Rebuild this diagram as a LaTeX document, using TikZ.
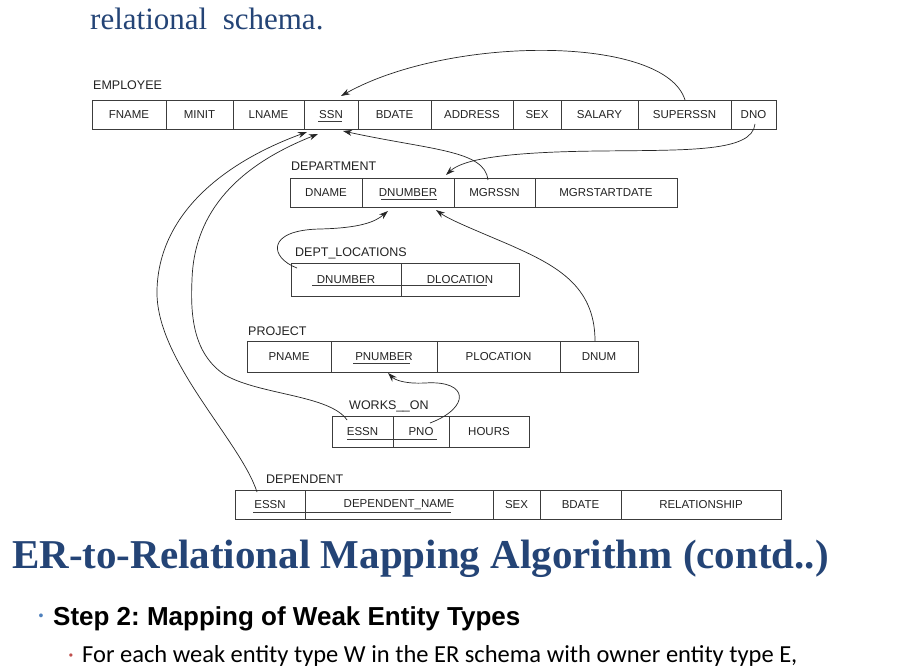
\documentclass[tikz,border=0pt]{standalone}
\usepackage{fontspec}
\setmainfont{Liberation Serif}
\newfontfamily\arialf{Liberation Sans}
\newfontfamily\carlf{Carlito}
\usetikzlibrary{arrows.meta}
\frenchspacing
\definecolor{titleblue}{RGB}{36,68,118}
\definecolor{linegray}{RGB}{60,60,60}
\definecolor{txtgray}{RGB}{35,35,35}
\definecolor{bulblue}{RGB}{79,129,189}
\definecolor{bulred}{RGB}{192,80,77}
\begin{document}
\begin{tikzpicture}[x=1pt,y=-1pt,
  cell/.style={draw=linegray,line width=0.8pt,inner sep=0pt,outer sep=0pt,
    font=\arialf\fontsize{11.5}{13}\selectfont,text=txtgray,anchor=center},
  tlabel/.style={anchor=base west,inner sep=0pt,font=\arialf\fontsize{12.5}{14}\selectfont,text=txtgray},
  uline/.style={draw=linegray,line width=0.7pt},
  fk/.style={draw=black!85,line width=0.7pt,-{Stealth[length=9pt,width=6pt]}}]
\useasboundingbox (0,0) rectangle (902,668);
\fill[white] (0,0) rectangle (902,668);

% heading text
\node[anchor=base west,inner sep=0pt,text=titleblue,font=\fontsize{31}{34}\selectfont] (hd) at (90,30) {relational~~schema.};

% EMPLOYEE
\node[tlabel] (lemp) at (93,90) {EMPLOYEE};
\begin{scope}[every node/.style={cell,minimum height=29pt}]
\node[minimum width=74pt] (efname) at (129,114.5) {FNAME};
\node[minimum width=67pt] (eminit) at (199.5,114.5) {MINIT};
\node[minimum width=71pt] (elname) at (268.5,114.5) {LNAME};
\node[minimum width=54pt] (essn) at (331,114.5) {SSN};
\node[minimum width=73pt] (ebdate) at (394.5,114.5) {BDATE};
\node[minimum width=82pt] (eaddr) at (472,114.5) {ADDRESS};
\node[minimum width=48pt] (esex) at (537,114.5) {SEX};
\node[minimum width=77pt] (esal) at (599.5,114.5) {SALARY};
\node[minimum width=93pt] (esup) at (684.5,114.5) {SUPERSSN};
\node[minimum width=45pt] (edno) at (753.5,114.5) {DNO};
\end{scope}
\draw[uline] (318,121.5) -- (342,121.5);

% DEPARTMENT
\node[tlabel] (ldep) at (291,171) {DEPARTMENT};
\begin{scope}[every node/.style={cell,minimum height=29pt}]
\node[minimum width=72pt] (ddname) at (326,192.5) {DNAME};
\node[minimum width=92pt] (ddnum) at (408,192.5) {DNUMBER};
\node[minimum width=81pt] (dmgr) at (494.5,192.5) {MGRSSN};
\node[minimum width=142pt] (dmgrsd) at (606,192.5) {MGRSTARTDATE};
\end{scope}
\draw[uline] (381,199) -- (437,199);

% DEPT_LOCATIONS
\node[tlabel] (lloc) at (295,257) {DEPT\_LOCATIONS};
\begin{scope}[every node/.style={cell,minimum height=33pt}]
\node[minimum width=110pt] (ldnum) at (346,279.5) {DNUMBER};
\node[minimum width=118pt] (ldloc) at (460,279.5) {DLOCATION};
\end{scope}
\draw[uline] (312,285.5) -- (487,285.5);

% PROJECT
\node[tlabel] (lproj) at (248,335) {PROJECT};
\begin{scope}[every node/.style={cell,minimum height=31pt}]
\node[minimum width=84pt] (ppname) at (289,356.5) {PNAME};
\node[minimum width=106pt] (ppnum) at (384,356.5) {PNUMBER};
\node[minimum width=123pt] (pploc) at (498.5,356.5) {PLOCATION};
\node[minimum width=78pt] (pdnum) at (599,356.5) {DNUM};
\end{scope}
\draw[uline] (353,363.5) -- (410,363.5);

% WORKS_ON
\node[tlabel] (lwo) at (349,409) {WORKS\_\kern-0.5pt\_ON};
\begin{scope}[every node/.style={cell,minimum height=31pt}]
\node[minimum width=61pt] (wessn) at (362.5,431.5) {ESSN};
\node[minimum width=56pt] (wpno) at (421,431.5) {PNO};
\node[minimum width=80pt] (whours) at (489,431.5) {HOURS};
\end{scope}
\draw[uline] (347,439.5) -- (437,439.5);

% DEPENDENT
\node[tlabel] (ldpt) at (266,483) {DEPENDENT};
\begin{scope}[every node/.style={cell,minimum height=29pt}]
\node[minimum width=70pt] (tessn) at (270,504.5) {ESSN};
\node[minimum width=188pt] (tname) at (399,504.5) {DEPENDENT\_NAME};
\node[minimum width=47pt] (tsex) at (516.5,504.5) {SEX};
\node[minimum width=81pt] (tbdate) at (580.5,504.5) {BDATE};
\node[minimum width=160pt] (trel) at (701,504.5) {RELATIONSHIP};
\end{scope}
\draw[uline] (253,512) -- (451,512);

% connector end points
\coordinate (supS) at (685,100);
\coordinate (ssnTop) at (341,96);
\coordinate (dnoS) at (755,124);
\coordinate (dnumTop) at (446,175);
\coordinate (mgrS) at (488,180);
\coordinate (ssnB1) at (307,132);
\coordinate (ssnB2) at (318,134);
\coordinate (ssnB3) at (343,131);
\coordinate (depS) at (257,492);
\coordinate (woS) at (347,420);
\coordinate (locS) at (297,268);
\coordinate (dnumB1) at (388,211);
\coordinate (dnumB2) at (436,210);
\coordinate (pdnumS) at (595,341);
\coordinate (pnoS) at (430,423);
\coordinate (pnumB) at (388,373);

\draw[fk] (supS) .. controls (665,35) and (450,35) .. (ssnTop);
\draw[fk] (dnoS) .. controls (752,152) and (690,150) .. (600,151) .. controls (500,152) and (462,160) .. (dnumTop);
\draw[fk] (mgrS) .. controls (485,150) and (430,150) .. (ssnB3);
\draw[fk] (depS) .. controls (240,440) and (155,360) .. (157,290) .. controls (159,210) and (230,160) .. (ssnB1);
\draw[fk] (woS) .. controls (330,395) and (260,395) .. (225,375) .. controls (195,355) and (190,320) .. (192,280) .. controls (194,210) and (240,165) .. (ssnB2);
\draw[fk] (locS) .. controls (270,258) and (265,230) .. (320,229) .. controls (360,228) and (375,222) .. (dnumB1);
\draw[fk] (pdnumS) .. controls (595,285) and (555,265) .. (510,245) .. controls (475,230) and (450,220) .. (dnumB2);
\draw[fk] (pnoS) .. controls (470,408) and (470,380) .. (425,383) .. controls (405,384) and (395,380) .. (pnumB);

% slide text
\node[anchor=base west,inner sep=0pt,text=titleblue,font=\bfseries\fontsize{41}{44}\selectfont] (title) at (12,568) {ER-to-Relational Mapping Algorithm (contd..)};
\node[anchor=center,inner sep=0pt,text=bulblue,font=\arialf\fontsize{14}{16}\selectfont] (b1) at (41,617) {•};
\node[anchor=base west,inner sep=0pt,text=black,font=\arialf\bfseries\fontsize{26}{30}\selectfont] (step) at (53,625) {Step 2: Mapping of Weak Entity Types};
\node[anchor=center,inner sep=0pt,text=bulred,font=\arialf\fontsize{12}{14}\selectfont] (b2) at (71,657) {•};
\node[anchor=base west,inner sep=0pt,text=black,font=\carlf\fontsize{24.5}{28}\selectfont] (txt) at (82,662) {For each weak entity type W in the ER schema with owner entity type E,};
\end{tikzpicture}
\end{document}
